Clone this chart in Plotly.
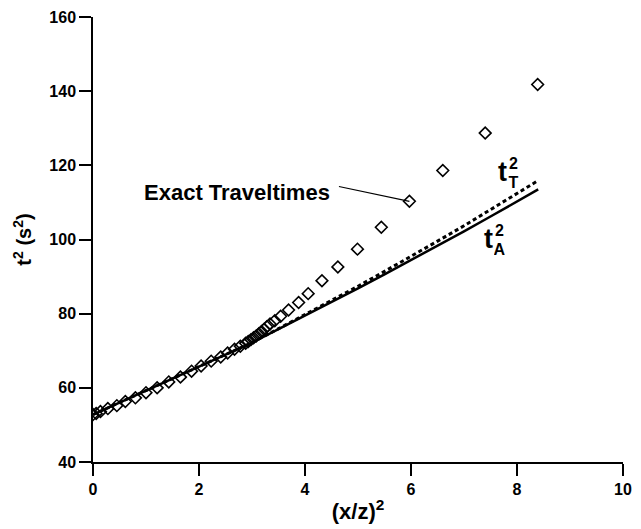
import plotly.graph_objects as go

# Exact traveltimes (diamonds)
exact_x = [0.00, 0.06, 0.14, 0.28, 0.45, 0.61, 0.80, 1.00, 1.21, 1.43, 1.65, 1.86,
           2.04, 2.23, 2.41, 2.54, 2.67, 2.78, 2.88, 2.93, 2.98, 3.03, 3.08, 3.13,
           3.18, 3.23, 3.28, 3.34, 3.43, 3.54, 3.69, 3.88, 4.06, 4.32, 4.62, 4.99,
           5.44, 5.97, 6.60, 7.40, 8.39]
exact_y = [52.8, 53.1, 53.6, 54.4, 55.2, 56.3, 57.3, 58.7, 60.0, 61.6, 62.9, 64.5,
           65.9, 67.2, 68.3, 69.4, 70.4, 71.2, 72.0, 72.5, 73.0, 73.5, 74.0, 74.6,
           75.2, 75.8, 76.5, 77.2, 78.1, 79.3, 81.0, 83.0, 85.4, 88.9, 92.6, 97.4,
           103.3, 110.3, 118.6, 128.7, 141.8]

# Approximations
curve_x = [0, 0.5, 1, 1.5, 2, 2.5, 3, 3.5, 4, 4.5, 5, 5.5, 6, 6.5, 7, 7.5, 8, 8.4]
tA_y = [52.8, 56.0, 59.2, 62.4, 65.6, 68.9, 72.2, 75.8, 79.4, 83.1, 86.8, 90.6,
        94.4, 98.3, 102.2, 106.2, 110.3, 113.5]
tT_y = [52.8, 56.0, 59.2, 62.4, 65.6, 68.9, 72.2, 75.95, 79.7, 83.55, 87.4, 91.4,
        95.4, 99.55, 103.7, 108.0, 112.4, 115.9]

x_ticks = [0, 2, 4, 6, 8, 10]
y_ticks = [40, 60, 80, 100, 120, 140, 160]

FONT = "Liberation Sans, Arial, Helvetica, sans-serif"


def bold(size):
    return dict(family=FONT, size=size, color="black", weight="bold")


fig = go.Figure()
fig.add_trace(go.Scatter(x=curve_x, y=tT_y, mode="lines",
                         line=dict(color="black", width=3, dash="4px,3px"),
                         showlegend=False))
fig.add_trace(go.Scatter(x=curve_x, y=tA_y, mode="lines",
                         line=dict(color="black", width=2.5),
                         showlegend=False))
fig.add_trace(go.Scatter(x=exact_x, y=exact_y, mode="markers",
                         marker=dict(symbol="diamond-open", size=9,
                                     color="black", line=dict(width=1.6, color="black")),
                         showlegend=False))

ann = []
# Exact traveltimes label and leader line
ann.append(dict(x=4.50, y=112.7, xref="x", yref="y", text="Exact Traveltimes",
                showarrow=False, xanchor="right", yanchor="middle", font=bold(22)))
fig.add_shape(type="line", xref="x", yref="y",
              x0=4.64, y0=114.3, x1=exact_x[37], y1=exact_y[37],
              line=dict(color="black", width=1.2))


def stacked_label(xa, y_t, y_sup, y_sub, sub):
    common = dict(xref="x", yref="y", showarrow=False, borderpad=0, borderwidth=0)
    ann.append(dict(x=xa, y=y_t, text="t", xanchor="right", width=11, height=26,
                    font=bold(27), **common))
    ann.append(dict(x=xa, y=y_sup, text="2", xanchor="left", width=11, height=15,
                    font=bold(16), **common))
    ann.append(dict(x=xa, y=y_sub, text=sub, xanchor="left", width=11, height=15,
                    font=bold(16), **common))


stacked_label(7.83, 118.3, 120.6, 115.3, "T")
stacked_label(7.56, 100.1, 102.3, 97.3, "A")

fig.update_layout(
    width=641, height=529,
    margin=dict(l=93, r=9, t=16, b=65),
    paper_bgcolor="white", plot_bgcolor="white",
    annotations=ann,
    font=dict(family=FONT, color="black"),
)
fig.update_xaxes(range=[0, 10], tickvals=x_ticks, ticktext=[str(v) for v in x_ticks],
                 showgrid=False, zeroline=False, showline=True, linecolor="black",
                 linewidth=1.5, ticks="outside", ticklen=12, tickwidth=1.5,
                 tickcolor="black", tickfont=bold(16),
                 title=dict(text="(x/z)<sup>2</sup>", standoff=7, font=bold(22)))
fig.update_yaxes(range=[40, 160], tickvals=y_ticks, ticktext=[str(v) for v in y_ticks],
                 showgrid=False, zeroline=False, showline=True, linecolor="black",
                 linewidth=1.5, ticks="outside", ticklen=12, tickwidth=1.5,
                 tickcolor="black", tickfont=bold(16),
                 title=dict(text="t<sup>2</sup> (s<sup>2</sup>)", standoff=12,
                            font=bold(20)))

fig.write_html("out.html")
